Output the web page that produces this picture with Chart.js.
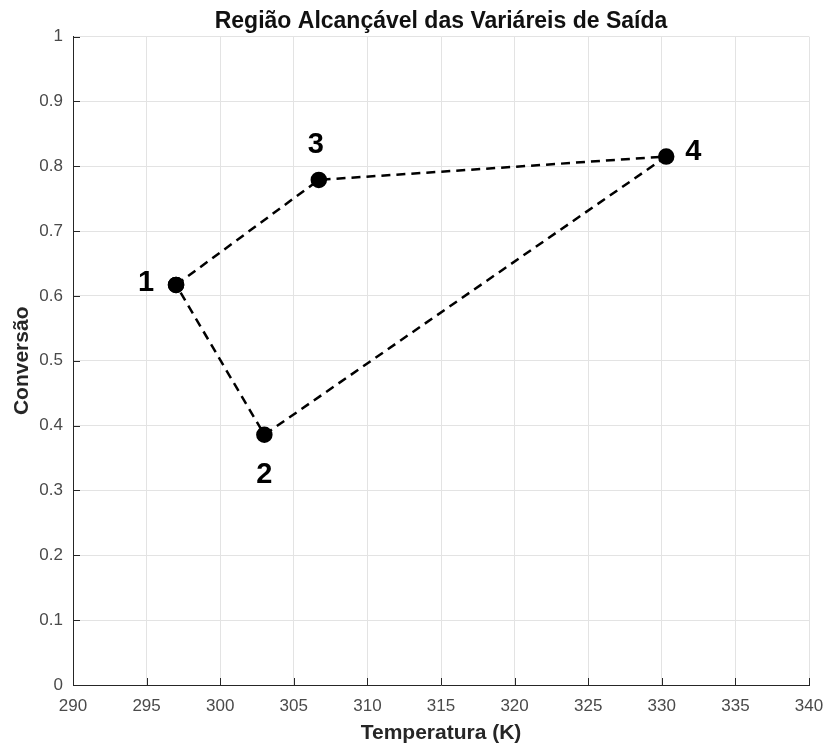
<!DOCTYPE html>
<html>
<head>
<meta charset="utf-8">
<script src="https://cdn.jsdelivr.net/npm/chart.js@4"></script>
<style>
  html, body { margin: 0; padding: 0; background: #fff; }
  #wrap { width: 827px; height: 746px; }
</style>
</head>
<body>
<div id="wrap"><canvas id="myChart"></canvas></div>
<script>
// pontos da regiao (fechada: 1 -> 3 -> 4 -> 2 -> 1)
const pointNames = ['1', '3', '4', '2', '1'];
const temperatura = [297.0, 306.7, 330.3, 303.0, 297.0];
const conversao = [0.617, 0.779, 0.815, 0.386, 0.617];

const xTicks = [290, 295, 300, 305, 310, 315, 320, 325, 330, 335, 340];
const yTicks = [0, 0.1, 0.2, 0.3, 0.4, 0.5, 0.6, 0.7, 0.8, 0.9, 1];

const FONT = "'Liberation Sans', Arial, sans-serif";

// posicao dos rotulos em volta de cada ponto
const labelOffset = {
  '1': [-30, -2],
  '2': [0, 40],
  '3': [-3, -35],
  '4': [27, -5]
};

const pointLabels = {
  id: 'pointLabels',
  afterDatasetsDraw(chart) {
    const ctx = chart.ctx;
    const meta = chart.getDatasetMeta(0);
    ctx.save();
    ctx.font = 'bold 29px ' + FONT;
    ctx.fillStyle = '#000';
    ctx.textAlign = 'center';
    ctx.textBaseline = 'middle';
    const done = {};
    meta.data.forEach((pt, i) => {
      const name = pointNames[i];
      if (done[name]) return;
      done[name] = true;
      const off = labelOffset[name];
      ctx.fillText(name, pt.x + off[0], pt.y + off[1]);
    });
    ctx.restore();
  }
};

// ticks para dentro, estilo matlab
const innerTicks = {
  id: 'innerTicks',
  afterDraw(chart) {
    const ctx = chart.ctx;
    const a = chart.chartArea;
    const xs = chart.scales.x, ys = chart.scales.y;
    ctx.save();
    ctx.strokeStyle = '#262626';
    ctx.lineWidth = 1;
    ctx.beginPath();
    xs.ticks.forEach((t, i) => {
      const px = Math.round(xs.getPixelForTick(i)) + 0.5;
      ctx.moveTo(px, a.bottom);
      ctx.lineTo(px, a.bottom - 7);
    });
    ys.ticks.forEach((t, i) => {
      const py = Math.round(ys.getPixelForTick(i)) + 0.5;
      ctx.moveTo(a.left, py);
      ctx.lineTo(a.left + 7, py);
    });
    ctx.stroke();
    ctx.restore();
  }
};

const data = {
  datasets: [{
    label: 'Região',
    data: temperatura.map((t, i) => ({ x: t, y: conversao[i] })),
    showLine: true,
    borderColor: '#000',
    borderWidth: 2.5,
    borderDash: [9, 6],
    pointBackgroundColor: '#000',
    pointBorderColor: '#000',
    pointRadius: 7,
    pointHoverRadius: 7,
    tension: 0
  }]
};

const config = {
  type: 'scatter',
  data: data,
  options: {
    responsive: false,
    animation: false,
    layout: { padding: { left: 0, right: 18, top: 0, bottom: 0 } },
    plugins: {
      legend: { display: false },
      tooltip: { enabled: false },
      title: {
        display: true,
        fullSize: false,
        text: 'Região Alcançável das Variáreis de Saída',
        color: '#111',
        font: { family: FONT, size: 23, weight: 'bold' },
        padding: { top: 8, bottom: 1 }
      }
    },
    scales: {
      x: {
        type: 'linear',
        min: 290,
        max: 340,
        afterBuildTicks(scale) { scale.ticks = xTicks.map(v => ({ value: v })); },
        afterFit(scale) {
          scale.height = 61;
          scale.paddingLeft = 0;
          scale.paddingRight = 0;
        },
        ticks: {
          color: '#4a4a4a',
          font: { family: FONT, size: 17 },
          padding: 11,
          maxRotation: 0
        },
        grid: { color: '#e3e3e3', tickLength: 0 },
        border: { color: '#262626', width: 1 },
        title: {
          display: true,
          text: 'Temperatura (K)',
          color: '#262626',
          font: { family: FONT, size: 21, weight: 'bold' },
          padding: { top: 0, bottom: 0 }
        }
      },
      y: {
        type: 'linear',
        min: 0,
        max: 1,
        afterBuildTicks(scale) { scale.ticks = yTicks.map(v => ({ value: v })); },
        afterFit(scale) { scale.width = 73; },
        ticks: {
          color: '#4a4a4a',
          font: { family: FONT, size: 17 },
          padding: 10,
          callback: v => String(Math.round(v * 10) / 10)
        },
        grid: { color: '#e3e3e3', tickLength: 0 },
        border: { color: '#262626', width: 1 },
        title: {
          display: true,
          text: 'Conversão',
          color: '#262626',
          font: { family: FONT, size: 21, weight: 'bold' },
          padding: { top: 10, bottom: 0 }
        }
      }
    }
  },
  plugins: [pointLabels, innerTicks]
};

const canvas = document.getElementById('myChart');
canvas.width = 827;
canvas.height = 746;
new Chart(canvas.getContext('2d'), config);
</script>
</body>
</html>
